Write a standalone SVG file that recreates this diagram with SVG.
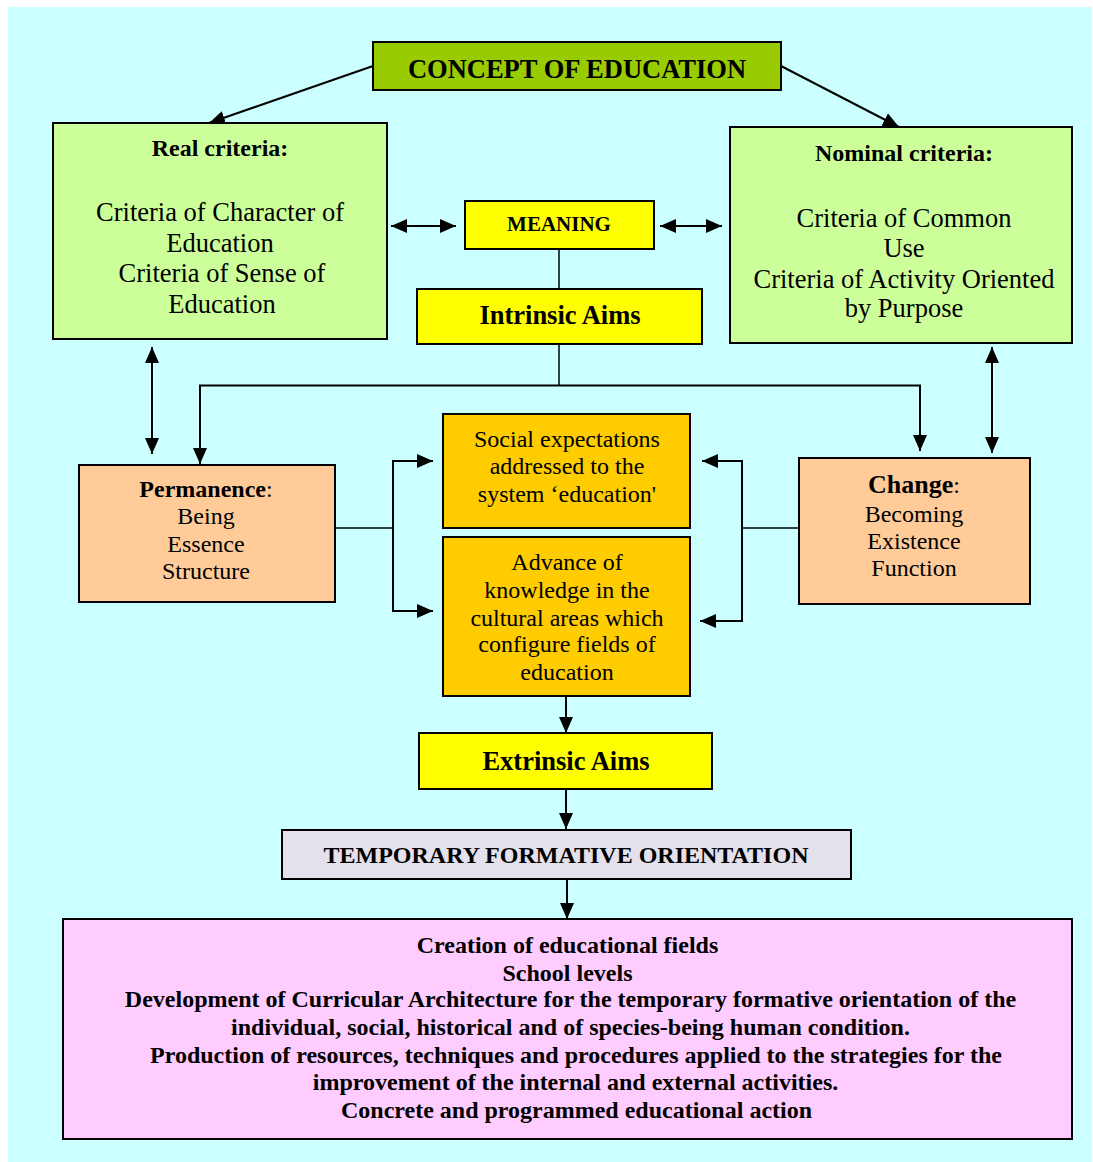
<svg xmlns="http://www.w3.org/2000/svg" width="1093" height="1162" viewBox="0 0 1093 1162">
<style>
text{font-family:"Liberation Serif","Times New Roman",serif;fill:#000;text-anchor:middle}
.b{font-weight:bold}
.box{stroke:#000;stroke-width:2}
.c{fill:none;stroke:#000;stroke-width:2}
.p{fill:none;stroke:#000;stroke-width:1.5}
.t24{font-size:24px}
.t26{font-size:26.5px}
</style>
<defs>
<marker id="ah" markerUnits="userSpaceOnUse" markerWidth="16" markerHeight="14" refX="16" refY="7" orient="auto-start-reverse">
<path d="M0,0 L16,7 L0,14 z" fill="#000"/>
</marker>
</defs>
<rect x="0" y="0" width="1093" height="1162" fill="#fff"/>
<rect x="8" y="7" width="1084" height="1155" fill="#CCFFFF"/>

<g id="connectors">
<path class="c" d="M373,66 L209,123" marker-end="url(#ah)"/>
<path class="c" d="M781,66 L899,127" marker-end="url(#ah)"/>
<path class="c" d="M391,226 H456" marker-start="url(#ah)" marker-end="url(#ah)"/>
<path class="c" d="M660,226 H722" marker-start="url(#ah)" marker-end="url(#ah)"/>
<path class="p" d="M559,249 V289"/>
<path class="p" d="M559,344 V385.5"/>
<path class="c" d="M559,385.5 H200 V464" marker-end="url(#ah)"/>
<path class="c" d="M559,385.5 H920 V451" marker-end="url(#ah)"/>
<path class="c" d="M152,347 V454" marker-start="url(#ah)" marker-end="url(#ah)"/>
<path class="c" d="M992,347 V453" marker-start="url(#ah)" marker-end="url(#ah)"/>
<path class="p" d="M335,528 H393"/>
<path class="c" d="M393,528 V461 H433" marker-end="url(#ah)"/>
<path class="c" d="M393,528 V611 H433" marker-end="url(#ah)"/>
<path class="p" d="M799,528 H742"/>
<path class="c" d="M742,528 V461 H702" marker-end="url(#ah)"/>
<path class="c" d="M742,528 V621 H700" marker-end="url(#ah)"/>
<path class="c" d="M566,696 V733" marker-end="url(#ah)"/>
<path class="c" d="M566,789 V829" marker-end="url(#ah)"/>
<path class="c" d="M567,879 V919" marker-end="url(#ah)"/>
</g>

<g id="concept">
<rect class="box" x="373" y="42" width="408" height="48" fill="#99CC00"/>
<text class="b t26" x="577" y="78">CONCEPT OF EDUCATION</text>
</g>

<g id="real-criteria">
<rect class="box" x="53" y="123" width="334" height="216" fill="#CCFF99"/>
<text class="b t24" x="220" y="156">Real criteria:</text>
<text class="t26" x="220" y="221">Criteria of Character of</text>
<text class="t26" x="220" y="252">Education</text>
<text class="t26" x="222" y="282">Criteria of Sense of</text>
<text class="t26" x="222" y="313">Education</text>
</g>

<g id="nominal-criteria">
<rect class="box" x="730" y="127" width="342" height="216" fill="#CCFF99"/>
<text class="b t24" x="904" y="161">Nominal criteria:</text>
<text class="t26" x="904" y="227">Criteria of Common</text>
<text class="t26" x="904" y="257">Use</text>
<text class="t26" x="904" y="288">Criteria of Activity Oriented</text>
<text class="t26" x="904" y="317">by Purpose</text>
</g>

<g id="meaning">
<rect class="box" x="465" y="201" width="189" height="48" fill="#FFFF00"/>
<text class="b" font-size="21" x="559" y="231">MEANING</text>
</g>

<g id="intrinsic-aims">
<rect class="box" x="417" y="289" width="285" height="55" fill="#FFFF00"/>
<text class="b t26" x="560" y="324">Intrinsic Aims</text>
</g>

<g id="permanence">
<rect class="box" x="79" y="465" width="256" height="137" fill="#FFCC99"/>
<text class="t24" x="206" y="497"><tspan class="b">Permanence</tspan>:</text>
<text class="t24" x="206" y="524">Being</text>
<text class="t24" x="206" y="552">Essence</text>
<text class="t24" x="206" y="579">Structure</text>
</g>

<g id="change">
<rect class="box" x="799" y="458" width="231" height="146" fill="#FFCC99"/>
<text x="914" y="493"><tspan class="b" font-size="26">Change</tspan><tspan font-size="24">:</tspan></text>
<text class="t24" x="914" y="522">Becoming</text>
<text class="t24" x="914" y="549">Existence</text>
<text class="t24" x="914" y="576">Function</text>
</g>

<g id="social-expectations">
<rect class="box" x="443" y="414" width="247" height="114" fill="#FFCC00"/>
<text class="t24" x="567" y="447">Social expectations</text>
<text class="t24" x="567" y="474">addressed to the</text>
<text class="t24" x="567" y="502">system ‘education'</text>
</g>

<g id="advance-of-knowledge">
<rect class="box" x="443" y="537" width="247" height="159" fill="#FFCC00"/>
<text class="t24" x="567" y="570">Advance of</text>
<text class="t24" x="567" y="598">knowledge in the</text>
<text class="t24" x="567" y="626">cultural areas which</text>
<text class="t24" x="567" y="652">configure fields of</text>
<text class="t24" x="567" y="680">education</text>
</g>

<g id="extrinsic-aims">
<rect class="box" x="419" y="733" width="293" height="56" fill="#FFFF00"/>
<text class="b t26" x="566" y="770">Extrinsic Aims</text>
</g>

<g id="temporary-formative-orientation">
<rect class="box" x="282" y="830" width="569" height="49" fill="#E4E0EC"/>
<text class="b t24" x="566" y="863">TEMPORARY FORMATIVE ORIENTATION</text>
</g>

<g id="educational-action">
<rect class="box" x="63" y="919" width="1009" height="220" fill="#FFCCFF"/>
<text class="b t24" x="567.5" y="953">Creation of educational fields</text>
<text class="b t24" x="567.5" y="981">School levels</text>
<text class="b t24" x="570.5" y="1007">Development of Curricular Architecture for the temporary formative orientation of the</text>
<text class="b t24" x="570.5" y="1035">individual, social, historical and of species-being human condition.</text>
<text class="b t24" x="576" y="1063">Production of resources, techniques and procedures applied to the strategies for the</text>
<text class="b t24" x="575.5" y="1090">improvement of the internal and external activities.</text>
<text class="b t24" x="576.5" y="1118">Concrete and programmed educational action</text>
</g>
</svg>
